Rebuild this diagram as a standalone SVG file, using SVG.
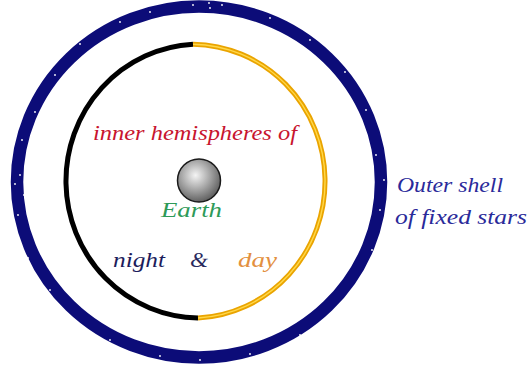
<svg xmlns="http://www.w3.org/2000/svg" width="529" height="372" viewBox="0 0 529 372">
<defs>
<radialGradient id="sph" cx="0.42" cy="0.38" r="0.65">
<stop offset="0" stop-color="#f4f4f4"/>
<stop offset="0.5" stop-color="#a8a8a8"/>
<stop offset="1" stop-color="#5a5a5a"/>
</radialGradient>
<style>
.t{font-family:"Liberation Serif","DejaVu Serif",serif;font-style:italic;font-size:21px}
.star{fill:#ffffff}
</style>
</defs>
<rect width="529" height="372" fill="#ffffff"/>
<g id="outer-shell">
<ellipse cx="199" cy="182" rx="182" ry="175.5" fill="none" stroke="#0c0c78" stroke-width="12.5"/>
<g class="star">
<circle cx="193" cy="5" r="0.9"/><circle cx="209" cy="3" r="0.9"/><circle cx="210" cy="8" r="0.9"/><circle cx="222" cy="5" r="0.9"/>
<circle cx="120" cy="22" r="0.9"/><circle cx="80" cy="44" r="0.9"/><circle cx="55" cy="75" r="0.9"/><circle cx="35" cy="112" r="0.9"/>
<circle cx="20" cy="175" r="0.9"/><circle cx="15" cy="184" r="0.9"/><circle cx="24" cy="195" r="0.9"/><circle cx="18" cy="215" r="0.9"/>
<circle cx="28" cy="258" r="0.9"/><circle cx="50" cy="290" r="0.9"/><circle cx="72" cy="318" r="0.9"/><circle cx="110" cy="340" r="0.9"/>
<circle cx="160" cy="356" r="0.9"/><circle cx="200" cy="360" r="0.9"/><circle cx="250" cy="354" r="0.9"/><circle cx="300" cy="335" r="0.9"/>
<circle cx="340" cy="305" r="0.9"/><circle cx="355" cy="287" r="0.9"/><circle cx="372" cy="250" r="0.9"/><circle cx="380" cy="210" r="0.9"/>
<circle cx="376" cy="155" r="0.9"/><circle cx="366" cy="110" r="0.9"/><circle cx="345" cy="72" r="0.9"/><circle cx="310" cy="40" r="0.9"/>
<circle cx="270" cy="18" r="0.9"/><circle cx="150" cy="12" r="0.9"/><circle cx="384" cy="180" r="0.9"/><circle cx="22" cy="140" r="0.9"/>
</g>
</g>
<g id="night-hemisphere">
<path d="M193 44.2 A134 137 0 0 0 198 318" fill="none" stroke="#000000" stroke-width="5"/>
</g>
<g id="day-hemisphere">
<path d="M193 44.2 A134 137 0 0 1 198 318" fill="none" stroke="#eaa400" stroke-width="5"/>
<path d="M193 44.2 A134 137 0 0 1 198 318" fill="none" stroke="#ffd84a" stroke-width="1.4"/>
</g>
<g id="earth">
<circle cx="199" cy="180.5" r="21.5" fill="url(#sph)" stroke="#1a1a1a" stroke-width="1.5"/>
</g>
<g id="labels">
<text class="t" x="93" y="140" fill="#c8142e" textLength="204" lengthAdjust="spacingAndGlyphs">inner hemispheres of</text>
<text class="t" x="161" y="217" fill="#2e9a58" textLength="61" lengthAdjust="spacingAndGlyphs">Earth</text>
<text class="t" x="113" y="267" fill="#1c1c5c" textLength="52" lengthAdjust="spacingAndGlyphs">night</text>
<text class="t" x="190" y="267" fill="#2a2a5e" textLength="18" lengthAdjust="spacingAndGlyphs">&amp;</text>
<text class="t" x="238" y="267" fill="#e39040" textLength="39" lengthAdjust="spacingAndGlyphs">day</text>
<text class="t" x="397" y="192" fill="#2a2a9a" textLength="106" lengthAdjust="spacingAndGlyphs">Outer shell</text>
<text class="t" x="395" y="224" fill="#2a2a9a" textLength="132" lengthAdjust="spacingAndGlyphs">of fixed stars</text>
</g>
</svg>
